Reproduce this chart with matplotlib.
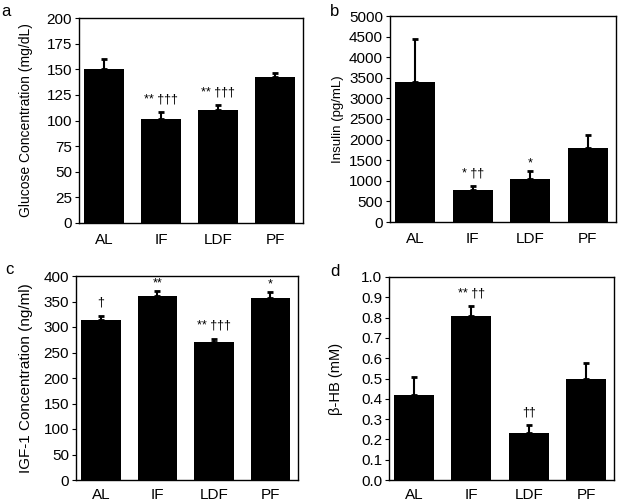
import matplotlib
matplotlib.use("Agg")
import matplotlib.pyplot as plt

plt.rcParams['font.family'] = ['Liberation Sans', 'DejaVu Sans']

groups = ["AL", "IF", "LDF", "PF"]

glucose = [150, 101, 110, 142]
glucose_err = [10, 7, 5, 4]
glucose_sig = ["", "** \u2020\u2020\u2020", "** \u2020\u2020\u2020", ""]

insulin = [3400, 780, 1050, 1800]
insulin_err = [1030, 90, 180, 300]
insulin_sig = ["", "* \u2020\u2020", "*", ""]

igf1 = [313, 360, 270, 357]
igf1_err = [9, 10, 7, 12]
igf1_sig = ["\u2020", "**", "** \u2020\u2020\u2020", "*"]

bhb = [0.42, 0.81, 0.23, 0.50]
bhb_err = [0.085, 0.045, 0.04, 0.075]
bhb_sig = ["", "** \u2020\u2020", "\u2020\u2020", ""]

fig = plt.figure(figsize=(6.23, 5.04), dpi=100)
W, H = 623, 504

def panel(box, vals, errs, sig, ylim, ticks, ticklabels, ylabel, ylfs, label_x,
          letter, letter_xy, xpad):
    l, t, r, b = box
    ax = fig.add_axes([l / W, 1 - b / H, (r - l) / W, (b - t) / H])
    x = range(len(groups))
    ax.bar(x, vals, width=0.70, color="black", zorder=2)
    ax.errorbar(x, vals, yerr=[[0] * len(vals), errs], fmt="none", ecolor="black",
                elinewidth=1.5, capsize=2.5, capthick=2, zorder=1)
    for i in x:
        if sig[i]:
            # asterisks sit high in the text box, so they need less room
            off = 1 if set(sig[i]) == {"*"} else 5
            ax.annotate(sig[i], (i, vals[i] + errs[i]), xytext=(0, off),
                        textcoords="offset points", ha="center", va="bottom", fontsize=9)
    ax.set_xlim(-0.44, 3.49)
    ax.set_ylim(*ylim)
    ax.set_yticks(ticks)
    ax.set_yticklabels(ticklabels, fontsize=11)
    ax.set_xticks(list(x))
    ax.set_xticklabels(groups, fontsize=11)
    ax.tick_params(axis="x", length=0, pad=xpad)
    ax.tick_params(axis="y", length=3, direction="out", pad=2)
    ax.set_ylabel(ylabel, fontsize=ylfs, va="center")
    ax.yaxis.set_label_coords((label_x - l) / (r - l), 0.5)
    for s in ax.spines.values():
        s.set_linewidth(1.0)
    fig.text(letter_xy[0] / W, 1 - letter_xy[1] / H, letter, fontsize=12,
             ha="center", va="center")
    return ax

panel((79, 18, 303, 223), glucose, glucose_err, glucose_sig, (0, 200),
      range(0, 201, 25), [str(v) for v in range(0, 201, 25)],
      "Glucose Concentration (mg/dL)", 10, 26, "a", (6, 11), 7)

panel((390, 16, 616, 222), insulin, insulin_err, insulin_sig, (0, 5000),
      range(0, 5001, 500), [str(v) for v in range(0, 5001, 500)],
      "Insulin (pg/mL)", 9.5, 338, "b", (335, 12), 7)

panel((76, 276, 298, 480), igf1, igf1_err, igf1_sig, (0, 400),
      range(0, 401, 50), [str(v) for v in range(0, 401, 50)],
      "IGF-1 Concentration (ng/ml)", 11, 26, "c", (9, 270), 6)

bt = [i / 10 for i in range(11)]
panel((389, 277, 614, 480), bhb, bhb_err, bhb_sig, (0, 1.0),
      bt, ["%.1f" % v for v in bt],
      "\u03b2-HB (mM)", 10.5, 336, "d", (335, 271), 6)

fig.savefig("out.png", dpi=100)
